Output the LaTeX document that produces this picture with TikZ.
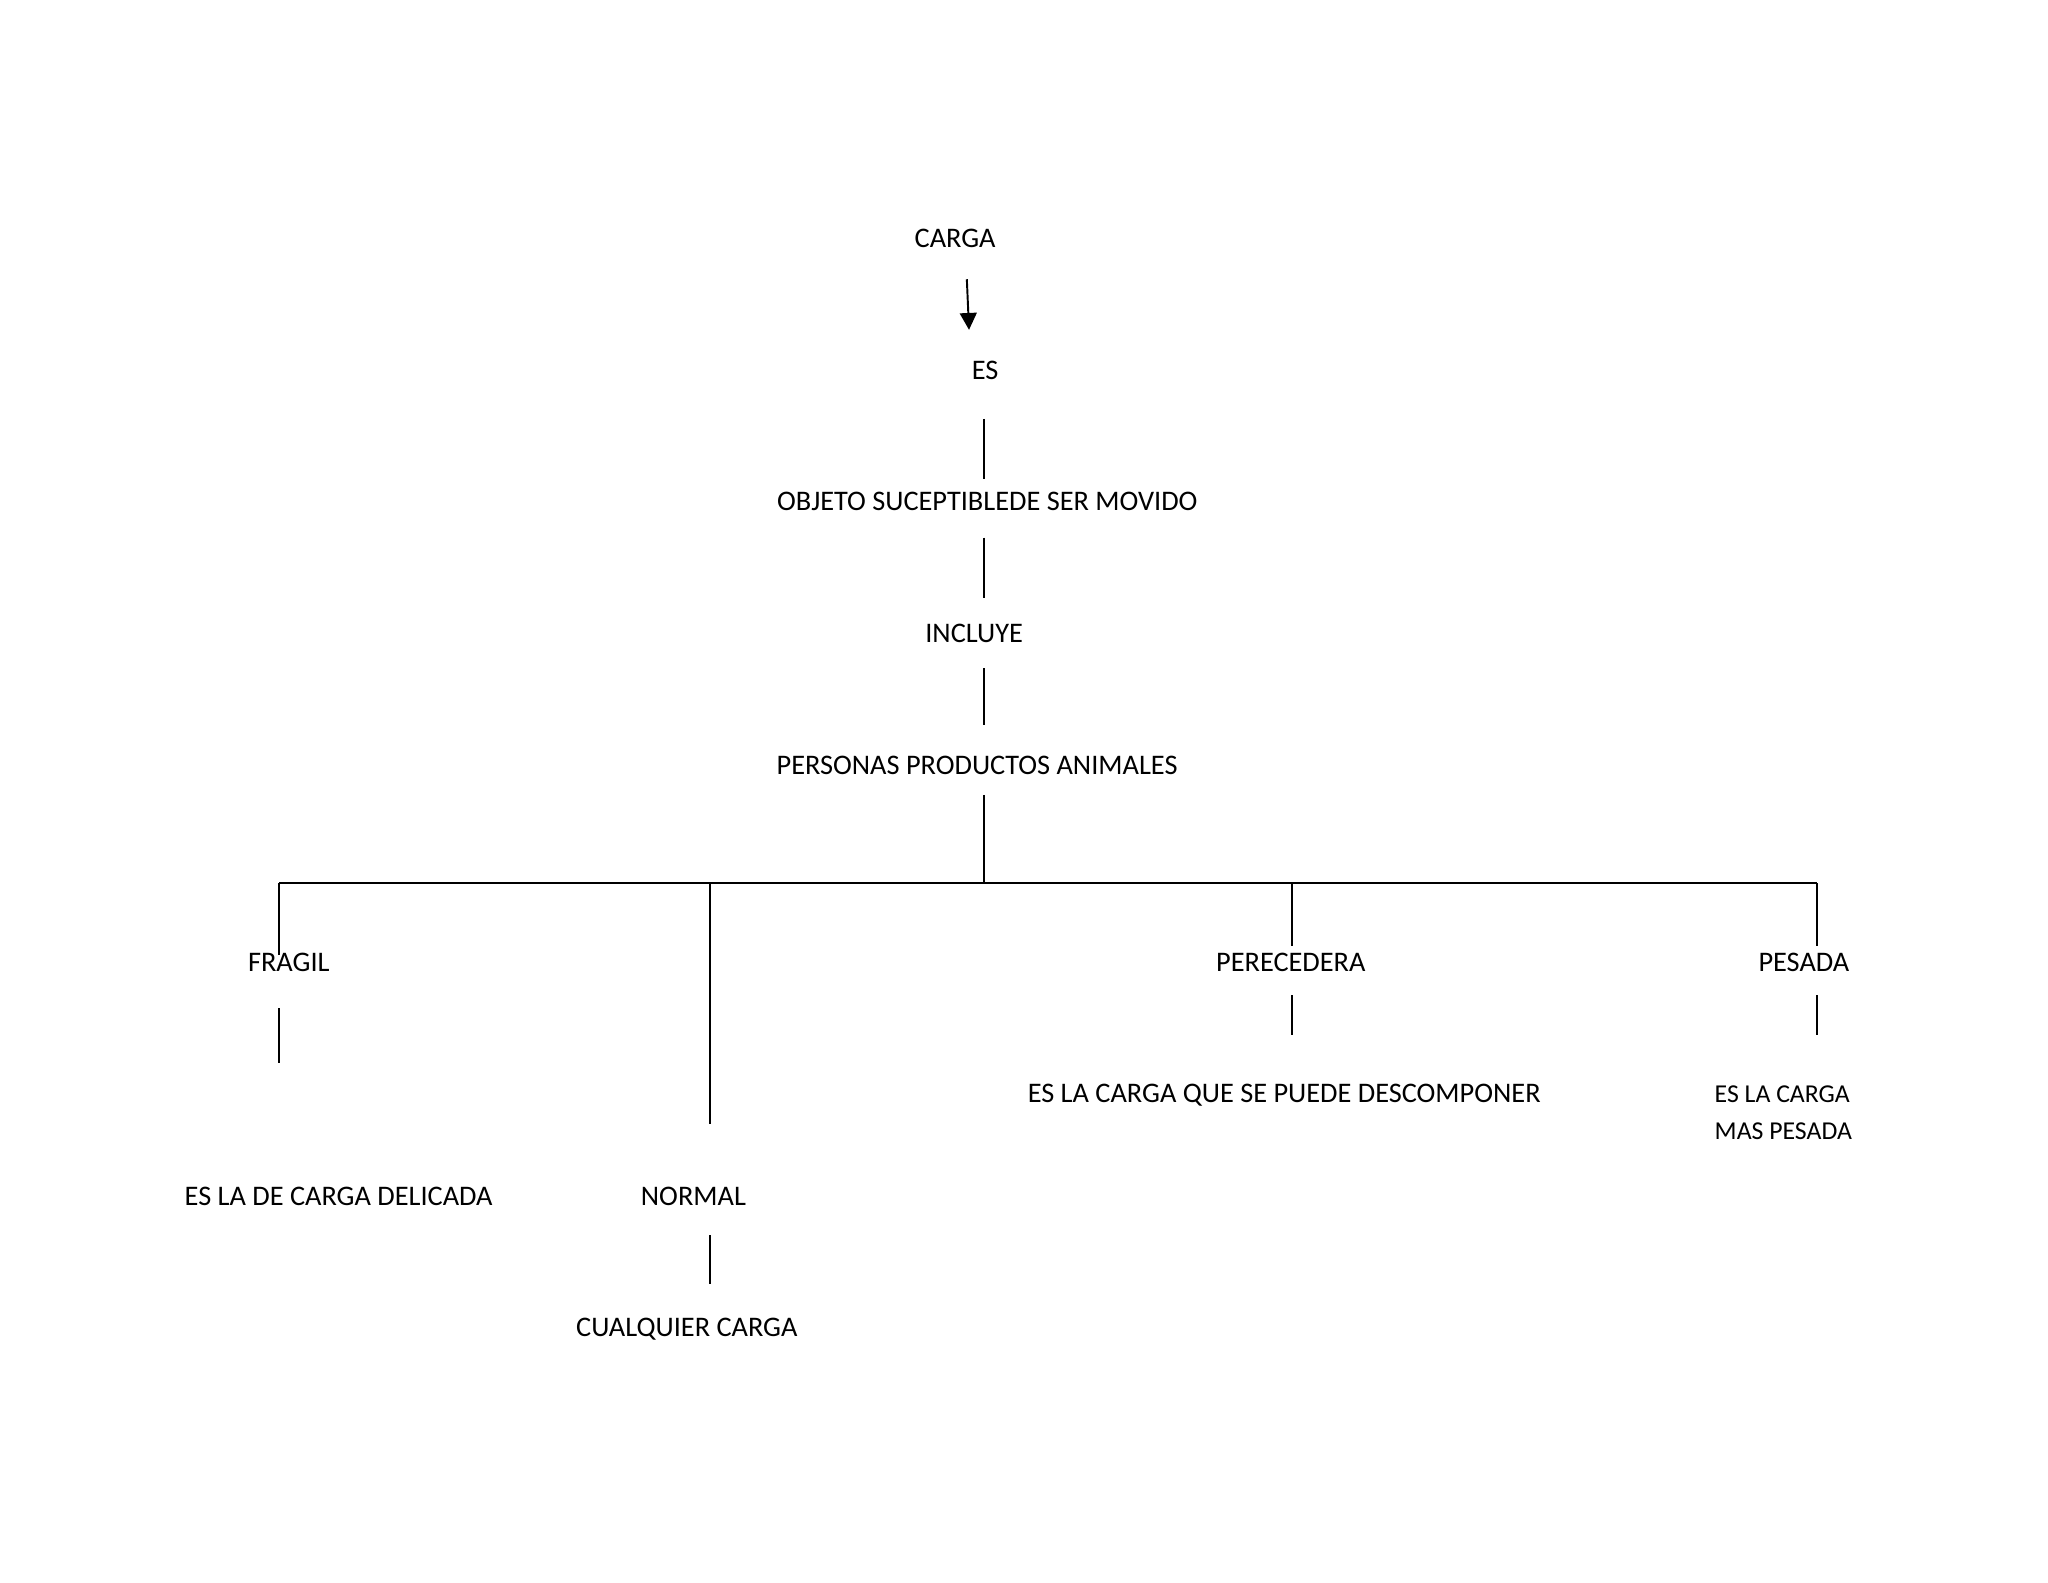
\documentclass[tikz,border=0pt]{standalone}
\usepackage{fontspec}
\setmainfont{Carlito}
\usepackage{tikz}
\usetikzlibrary{arrows.meta}

\begin{document}
\begin{tikzpicture}[>={Triangle[length=2.3mm,width=2.3mm]},font=\fontsize{11}{13}\selectfont,line width=0.75pt,
  every node/.style={inner sep=0pt}]
\useasboundingbox (0,0) rectangle (27.94,21.59);
\node (carga) at (13.03,18.34) {CARGA};
\node (es) at (13.44,16.54) {ES};
\node (objeto) at (13.47,14.75) {OBJETO SUCEPTIBLEDE SER MOVIDO};
\node (incluye) at (13.29,12.95) {INCLUYE};
\node (personas) at (13.33,11.15) {PERSONAS PRODUCTOS ANIMALES};
\coordinate (bf) at (3.81,9.54);
\coordinate (bn) at (9.69,9.54);
\coordinate (bc) at (13.42,9.54);
\coordinate (bp) at (17.62,9.54);
\coordinate (bs) at (24.79,9.54);
\node (fragil) at (3.94,8.46) {FRAGIL};
\node (perecedera) at (17.61,8.46) {PERECEDERA};
\node (pesada) at (24.61,8.46) {PESADA};
\node (delicada) at (4.62,5.27) {ES LA DE CARGA DELICADA};
\node (normal) at (9.46,5.27) {NORMAL};
\node (cualquier) at (9.37,3.45) {CUALQUIER CARGA};
\node (descomponer) at (17.52,6.65) {ES LA CARGA QUE SE PUEDE DESCOMPONER};
\node[anchor=west,align=left,font=\fontsize{10}{14.7}\selectfont] (maspesada) at (23.38,6.41) {ES LA CARGA\\MAS PESADA};
% tronco
\draw[->] ([xshift=1.6mm,yshift=-4.2mm]carga.south) -- ([xshift=-2.2mm,yshift=4.1mm]es.north);
\draw ([yshift=-5.25mm]es.south -| bc) -- ([yshift=1.65mm]objeto.north -| bc);
\draw ([yshift=-3.55mm]objeto.south -| bc) -- ([yshift=3.35mm]incluye.north -| bc);
\draw ([yshift=-3.35mm]incluye.south -| bc) -- ([yshift=4.15mm]personas.north -| bc);
\draw ([yshift=-2.65mm]personas.south -| bc) -- (bc);
\draw (bf) -- (bs);
% ramas
\draw (bf) -- ([yshift=-0.4mm]fragil.north -| bf);
\draw (bn) -- ([yshift=8.5mm]normal.north -| bn);
\draw (bp) -- ([yshift=0.85mm]perecedera.north -| bp);
\draw (bs) -- ([yshift=0.85mm]pesada.north -| bs);
\draw ([yshift=-4.85mm]fragil.south -| bf) -- ([yshift=16.75mm]delicada.north -| bf);
\draw ([yshift=-3.95mm]normal.south -| bn) -- ([yshift=4.65mm]cualquier.north -| bn);
\draw ([yshift=-3.05mm]perecedera.south -| bp) -- ([yshift=6.55mm]descomponer.north -| bp);
\draw ([yshift=-3.05mm]pesada.south -| bs) -- ([yshift=6.75mm]maspesada.north -| bs);
\end{tikzpicture}
\end{document}
